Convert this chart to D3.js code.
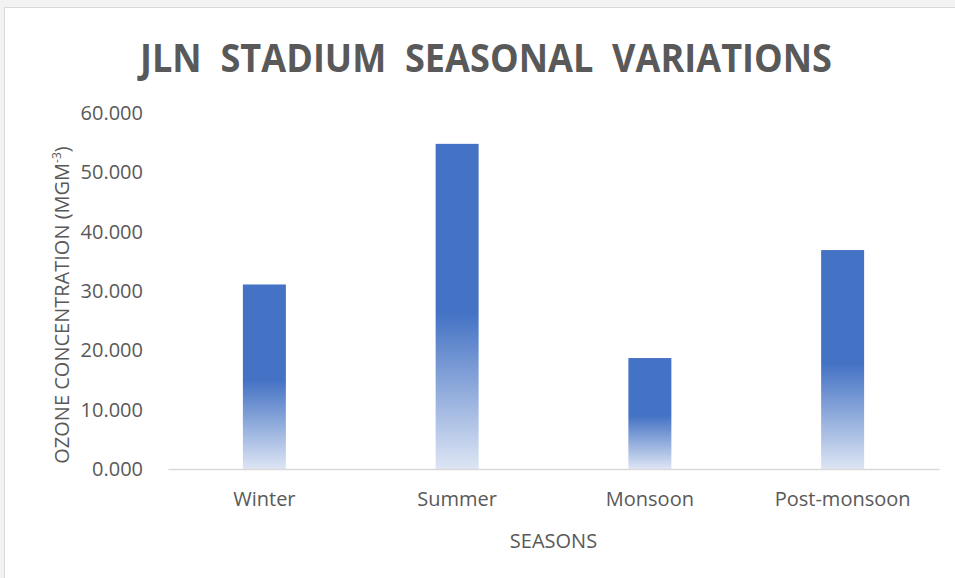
<!DOCTYPE html>
<html>
<head>
<meta charset="utf-8">
<script src="https://cdn.jsdelivr.net/npm/d3@7"></script>
<style>
  html, body { margin: 0; padding: 0; background: #ffffff; }
  svg { display: block; }
</style>
</head>
<body>
<svg id="chart" width="955" height="578"></svg>
<script>
// Seasonal ozone concentration at JLN Stadium
const seasons = ["Winter", "Summer", "Monsoon", "Post-monsoon"];
const ozone = [31.1, 54.8, 18.7, 36.9];
const yTicks = [0, 10, 20, 30, 40, 50, 60];

const W = 955, H = 578;
const margin = { left: 168, right: 16, top: 113, bottom: 109 };
const svg = d3.select("#chart");

// chart frame
svg.append("rect").attr("x", 0).attr("y", 0).attr("width", W).attr("height", H).attr("fill", "#f2f2f2");
svg.append("rect").attr("x", 4.5).attr("y", 7.5).attr("width", W + 10).attr("height", H + 10)
  .attr("fill", "#ffffff").attr("stroke", "#d9d9d9").attr("stroke-width", 1);

const x = d3.scaleBand().domain(seasons).range([margin.left, W - margin.right])
  .paddingInner(0.777).paddingOuter(0.3885);
const y = d3.scaleLinear().domain([0, 60]).range([H - margin.bottom, margin.top]);

// bar fill: solid blue in the upper half, fading toward the baseline
const defs = svg.append("defs");
const grad = defs.append("linearGradient").attr("id", "barFill")
  .attr("x1", 0).attr("y1", 0).attr("x2", 0).attr("y2", 1);
grad.append("stop").attr("offset", "0%").attr("stop-color", "#4472c4");
grad.append("stop").attr("offset", "52%").attr("stop-color", "#4472c4");
grad.append("stop").attr("offset", "100%").attr("stop-color", "#dde5f4");

const font = "'Open Sans', 'Noto Sans', sans-serif";
const textColor = "#595959";

// y axis (labels only)
const yAxis = d3.axisLeft(y).tickValues(yTicks).tickFormat(d3.format(".3f")).tickSize(0).tickPadding(25);
const gy = svg.append("g").attr("transform", `translate(${margin.left},0)`).call(yAxis);
gy.select(".domain").remove();
gy.selectAll("text").attr("fill", textColor).style("font-family", font).style("font-size", "20px");

// bars
svg.append("g").selectAll("rect").data(seasons).join("rect")
  .attr("x", d => x(d))
  .attr("width", x.bandwidth())
  .attr("y", (d, i) => y(ozone[i]))
  .attr("height", (d, i) => y(0) - y(ozone[i]))
  .attr("fill", "url(#barFill)");

// x axis
const xAxis = d3.axisBottom(x).tickSize(0).tickPadding(23);
const gx = svg.append("g").attr("transform", `translate(0,${y(0)})`).call(xAxis);
gx.select(".domain").attr("stroke", "#d9d9d9").attr("stroke-width", 1.5);
gx.selectAll("text").attr("fill", textColor).style("font-family", font).style("font-size", "20px");

// title (double spaces between words are kept)
svg.append("text").attr("x", 486).attr("y", 72).attr("text-anchor", "middle")
  .attr("fill", textColor).style("font-family", font).style("font-weight", 700).style("font-size", "40px")
  .style("white-space", "pre")
  .attr("textLength", 692).attr("lengthAdjust", "spacingAndGlyphs")
  .text("JLN  STADIUM  SEASONAL  VARIATIONS");

// axis titles
svg.append("text").attr("x", (margin.left + W - margin.right) / 2).attr("y", 548).attr("text-anchor", "middle")
  .attr("fill", textColor).style("font-family", font).style("font-size", "20px").text("SEASONS");

const yt = svg.append("text").attr("transform", "translate(69,305) rotate(-90)").attr("text-anchor", "middle")
  .attr("fill", textColor).style("font-family", font).style("font-size", "20px");
yt.append("tspan").text("OZONE CONCENTRATION (MGM");
yt.append("tspan").attr("baseline-shift", "super").style("font-size", "12px").text("-3");
yt.append("tspan").text(")");
</script>
</body>
</html>
